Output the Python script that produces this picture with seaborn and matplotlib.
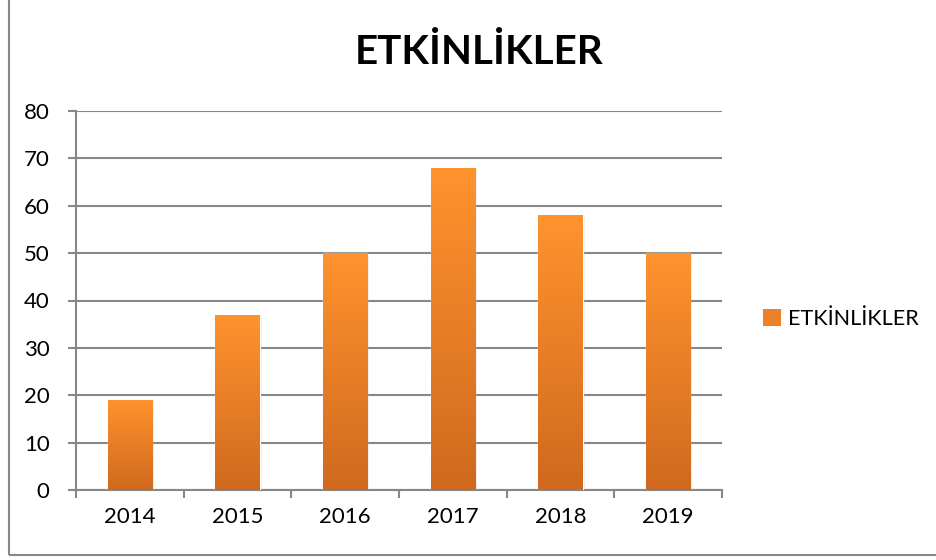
import numpy as np
import pandas as pd
import seaborn as sns
import matplotlib.pyplot as plt
from matplotlib.patches import Patch, Rectangle
from matplotlib.colors import LinearSegmentedColormap


years = ["2014", "2015", "2016", "2017", "2018", "2019"]
values = [19, 37, 50, 68, 58, 50]
series_name = "ETKİNLİKLER"
title = "ETKİNLİKLER"

df = pd.DataFrame({"year": years, "count": values})

sns.set_style("white")
plt.rcParams['font.family'] = ['Lato', 'DejaVu Sans']
plt.rcParams['text.color'] = "black"
plt.rcParams['xtick.color'] = "black"
plt.rcParams['ytick.color'] = "black"

grid_color = "#878787"
top_color = "#FF932E"
bottom_color = "#D0691E"
grad = LinearSegmentedColormap.from_list("bar", [bottom_color, top_color])

fig = plt.figure(figsize=(9.36, 5.6), dpi=100)
ax = fig.add_axes([76 / 936, 1 - 490 / 560, (722 - 76) / 936, (490 - 111) / 560])

sns.barplot(data=df, x="year", y="count", color=top_color, width=0.41,
            saturation=1, ax=ax, zorder=3)

# gradient fill on each bar, clipped to the bar shape
for p in ax.patches:
    x0, y0 = p.get_x(), p.get_y()
    w, h = p.get_width(), p.get_height()
    img = np.linspace(0, 1, 256).reshape(-1, 1)
    im = ax.imshow(img, cmap=grad, origin="lower", aspect="auto",
                   extent=[x0, x0 + w, y0, y0 + h], zorder=4)
    im.set_clip_path(p)
    # faint shadow
    ax.add_patch(Rectangle((x0 + 0.02, y0), w, h - 0.3, facecolor="#000000",
                           alpha=0.08, zorder=2, lw=0))

ax.set_xlim(-0.5, len(years) - 0.5)
ax.set_ylim(0, 80)
ax.set_yticks(range(0, 81, 10))
ax.yaxis.grid(True, color=grid_color, linewidth=1.5)
ax.set_axisbelow(True)
ax.set_xlabel("")
ax.set_ylabel("")

for s in ["top", "right"]:
    ax.spines[s].set_visible(False)
for s in ["left", "bottom"]:
    ax.spines[s].set_color(grid_color)
    ax.spines[s].set_linewidth(1.5)

ax.tick_params(axis="y", length=6, width=1.5, color=grid_color, labelsize=16,
               labelcolor="black", pad=13, left=True)
ax.set_xticks(np.arange(-0.5, len(years), 1), minor=True)
ax.tick_params(axis="x", which="major", length=0, labelsize=16, pad=12,
               labelcolor="black")
ax.tick_params(axis="x", which="minor", length=6, width=1.5, color=grid_color,
               bottom=True)

fig.text(479 / 936, 1 - 52 / 560, title, ha="center", va="center",
         fontsize=29, fontweight="bold", color="black")

handle = Patch(facecolor="#EC8127", edgecolor="none")
fig.legend([handle], [series_name], loc="center left",
           bbox_to_anchor=(744 / 936, 1 - 319 / 560), frameon=False,
           fontsize=15.5, handlelength=0.8, handleheight=0.8,
           handletextpad=0.35, labelcolor="black")

fig.patches.append(Rectangle((8.5 / 936, 5 / 560), 1.2, 1.2,
                             transform=fig.transFigure, fill=False,
                             edgecolor=grid_color, linewidth=1.5))

plt.savefig("out.png", dpi=100)
